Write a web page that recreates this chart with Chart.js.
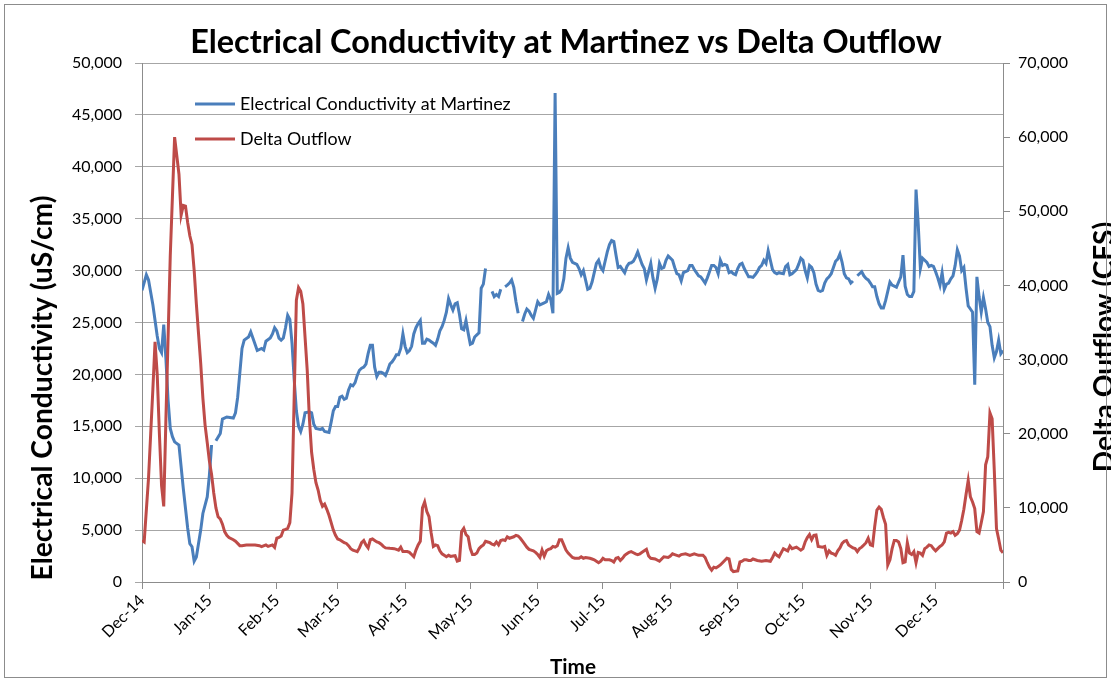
<!DOCTYPE html>
<html>
<head>
<meta charset="utf-8">
<script src="https://cdn.jsdelivr.net/npm/chart.js@4.4.1/dist/chart.umd.min.js"></script>
<style>
  html, body { margin: 0; padding: 0; background: #fff; }
  #wrap { width: 1111px; height: 682px; }
</style>
</head>
<body>
<div id="wrap"><canvas id="chart" width="1111" height="682"></canvas></div>
<script>
// day 0 = 1 Dec 2014
const monthDays = [0, 31, 62, 90, 121, 151, 182, 212, 243, 274, 304, 335, 365, 396];
const monthLabels = ['Dec-14', 'Jan-15', 'Feb-15', 'Mar-15', 'Apr-15', 'May-15', 'Jun-15',
  'Jul-15', 'Aug-15', 'Sep-15', 'Oct-15', 'Nov-15', 'Dec-15', ''];

// Electrical Conductivity at Martinez (uS/cm), null = missing data
const ecDay = [
  0, 2, 3, 5, 7, 8, 9, 10, 11, 12,
  13, 14, 15, 17, 19, 21, 22, 23, 24, 25,
  27, 28, 30, 31, 32, 33, 34, 36, 37, 39,
  42, 43, 44, 46, 47, 49, 50, 51, 53, 55,
  56, 57, 59, 60, 61, 62, 63, 64, 65, 66,
  67, 68, 69, 70, 71, 72, 73, 74, 75, 77,
  78, 79, 80, 82, 83, 84, 86, 87, 88, 89,
  90, 91, 92, 93, 94, 95, 96, 97, 98, 99,
  100, 101, 102, 103, 104, 105, 106, 107, 108, 109,
  110, 111, 112, 113, 114, 115, 116, 117, 118, 119,
  120, 121, 122, 123, 124, 125, 126, 127, 128, 129,
  130, 131, 132, 133, 134, 135, 136, 137, 138, 139,
  140, 141, 142, 143, 144, 145, 146, 147, 148, 149,
  150, 151, 152, 153, 154, 155, 156, 157, 158, 159,
  161, 162, 163, 164, 165, 166, 167, 168, 169,
  170, 171, 172, 173, 174, 175, 176, 177, 178, 179,
  180, 181, 182, 183, 184, 185, 186, 187, 188, 189,
  190, 191, 192, 193, 194, 195, 196, 197, 198, 199,
  200, 201, 202, 203, 204, 205, 206, 207, 208, 209,
  210, 211, 212, 213, 214, 215, 216, 217, 218, 219,
  220, 221, 222, 223, 224, 225, 226, 227, 228, 229,
  230, 231, 232, 233, 234, 235, 236, 237, 238, 239,
  240, 241, 242, 243, 244, 245, 246, 247, 248, 249,
  250, 251, 252, 253, 254, 255, 256, 257, 258, 259,
  260, 261, 262, 263, 264, 265, 266, 267, 268, 269,
  270, 271, 272, 273, 274, 275, 276, 277, 278, 279,
  280, 281, 282, 283, 284, 285, 286, 287, 288, 289,
  290, 291, 292, 293, 294, 295, 296, 297, 298, 299,
  300, 301, 302, 303, 304, 305, 306, 307, 308, 309,
  310, 311, 312, 313, 314, 315, 316, 317, 318, 319,
  320, 321, 322, 323, 324, 325, 326, 327, 328, 329,
  330, 331, 332, 333, 334, 335, 336, 337, 338, 339,
  340, 341, 342, 343, 344, 345, 346, 347, 348, 349,
  350, 351, 352, 353, 354, 355, 356, 357, 358, 359,
  360, 361, 362, 363, 364, 365, 366, 367, 368, 369,
  370, 371, 372, 373, 374, 375, 376, 377, 378, 379,
  380, 381, 382, 383, 384, 385, 386, 387, 388, 389,
  390, 391, 392, 393, 394, 395, 396
];
const ecVal = [
  28100, 29600, 29100, 26700, 23700, 22500, 22100, 24800, 21500, 17500,
  14800, 14000, 13500, 13200, 9000, 5200, 3700, 3400, 2000, 2400,
  5000, 6600, 8200, 10300, 13200, null, 13600, 14300, 15700, 15900,
  15800, 16300, 17800, 22500, 23300, 23600, 24100, 23500, 22300, 22500,
  22350, 23200, 23500, 23900, 24500, 24200, 23500, 23300, 23500, 24500,
  25700, 25300, 23000, 19500, 16500, 15000, 14500, 15200, 16300, 16400,
  16300, 15200, 14800, 14700, 14800, 14500, 14400, 15400, 16500, 16900,
  16900, 17800, 17900, 17600, 17700, 18500, 19000, 18900, 19200, 19900,
  20400, 20600, 20700, 21000, 22000, 22800, 22800, 20700, 19800, 20200,
  20200, 20100, 19900, 20400, 21000, 21200, 21500, 21900, 21900, 22500,
  23900, 22700, 22100, 22300, 22700, 23900, 24500, 24900, 25200, 23000,
  23000, 23400, 23300, 23150, 23000, 22800, 23400, 24200, 24600, 25200,
  26000, 27300, 26700, 26200, 26800, 26900, 25800, 24400, 24300, 25200,
  24000, 22900, 23000, 23600, 23800, 24000, 28300, 28700, 30200, null,
  28000, 27500, 27700, 27500, 28200, null, 28450, 28600, 28800,
  29100, 28400, 27000, 25900, null, 25100, 25800, 26300, 26100, 25700,
  25400, 26200, 27000, 26700, 26800, 26900, 27000, 27700, 27200, 25900,
  47100, 27800, 27900, 28200, 29200, 31200, 32200, 31200, 30800, 30700,
  30600, 30200, 29600, 30000, 29100, 28200, 28300, 28900, 29800, 30700,
  31000, 30300, 30000, 30900, 31800, 32500, 32900, 32800, 31500, 30300,
  30400, 30100, 29800, 30400, 30700, 30750, 30900, 31300, 31800, 31200,
  30600, 30200, 29100, 29900, 30700, 29300, 28300, 29200, 30700, 30200,
  30300, 31000, 31400, 31200, 31000, 30300, 29700, 29600, 29000, 29800,
  29900, 30000, 30500, 30500, 30100, 29800, 29500, 29400, 29100, 28800,
  29300, 29900, 30500, 30500, 30300, 29700, 31000, 30500, 30600, 30500,
  29800, 29900, 29700, 29600, 30200, 30600, 30700, 30200, 29800, 29400,
  29400, 29350, 29600, 29900, 30300, 30500, 31000, 30700, 31900, 31000,
  30100, 29800, 29700, 29800, 29750, 29700, 30400, 30600, 29600, 29700,
  29900, 30100, 30600, 31200, 31000, 30000, 29300, 30500, 30300, 29800,
  28700, 28100, 28000, 28100, 28800, 29200, 29400, 29700, 30300, 30900,
  31100, 31600, 30800, 29700, 29300, 29200, 28800, 29000, null, 29500,
  29700, 29900, 29500, 29250, 29100, 28800, 28450, 28450, 27500, 26800,
  26400, 26400, 27100, 28000, 28900, 28600, 28500, 28400, 28900, 29400,
  31500, 28500, 27700, 27500, 27500, 28000, 37800, 34500, 30200, 31200,
  31000, 30800, 30400, 30500, 30400, 29900, 29300, 28600, 29800, 28200,
  28700, 28800, 29200, 29500, 30500, 32000, 31400, 30000, 30300, 28300,
  26600, 26300, 26000, 19000, 29400, 27500, 26000, 27400, 26300, 25000,
  24600, 22800, 21600, 22200, 23300, 22000, 22300
];

// Delta Outflow (CFS)
const flowDay = [
  0, 1, 3, 4, 5, 6, 7, 8, 9, 10,
  11, 12, 13, 14, 15, 16, 17, 18, 19, 20,
  21, 22, 23, 24, 25, 26, 27, 28, 29, 30,
  31, 32, 33, 34, 35, 36, 37, 38, 39, 40,
  42, 43, 45, 46, 48, 52, 54, 55, 57, 58,
  60, 61, 62, 63, 64, 65, 66, 67, 68, 69,
  70, 71, 72, 73, 74, 75, 76, 77, 78, 79,
  80, 81, 82, 83, 84, 85, 86, 87, 88, 89,
  90, 91, 92, 93, 94, 95, 96, 97, 98, 99,
  100, 101, 102, 103, 104, 105, 106, 108, 109, 110,
  111, 112, 114, 116, 117, 118, 119, 120, 122, 123,
  124, 125, 126, 127, 128, 129, 130, 131, 132, 133,
  134, 135, 136, 137, 138, 139, 140, 141, 142, 143,
  144, 145, 146, 147, 148, 149, 150, 151, 152, 153,
  154, 155, 156, 157, 158, 159, 160, 161, 162, 163,
  164, 165, 166, 167, 168, 169, 170, 171, 172, 173,
  174, 175, 176, 177, 178, 179, 180, 181, 182, 183,
  184, 185, 186, 187, 188, 189, 190, 191, 192, 193,
  194, 195, 196, 197, 198, 199, 201, 202, 203, 204,
  206, 207, 208, 209, 210, 211, 212, 213, 215, 216,
  217, 218, 219, 220, 221, 222, 223, 224, 225, 226,
  227, 228, 229, 230, 231, 232, 233, 234, 236, 238,
  239, 240, 242, 243, 244, 245, 247, 248, 250, 252,
  254, 256, 258, 259, 260, 261, 262, 263, 264, 265,
  266, 267, 268, 269, 270, 271, 272, 273, 274, 275,
  276, 277, 278, 279, 280, 281, 283, 285, 287, 289,
  290, 291, 292, 293, 295, 297, 298, 299, 301, 302,
  303, 304, 305, 306, 307, 308, 309, 310, 311, 313,
  314, 315, 316, 317, 318, 319, 320, 321, 322, 323,
  324, 325, 326, 327, 328, 329, 330, 331, 332, 333,
  334, 335, 336, 337, 338, 339, 340, 341, 342, 343,
  344, 345, 346, 347, 348, 349, 350, 351, 352, 353,
  354, 355, 356, 357, 358, 359, 360, 361, 362, 363,
  364, 365, 366, 367, 368, 369, 370, 371, 372, 373,
  374, 375, 376, 377, 378, 379, 380, 381, 382, 383,
  384, 385, 386, 387, 388, 389, 390, 391, 392, 393,
  394, 395, 396
];
const flowVal = [
  5600, 5400, 14000, 20000, 26000, 32400, 28000, 20000, 13000, 10200,
  22000, 33000, 44000, 52000, 60000, 57500, 55000, 49500, 50800, 50700,
  48500, 46700, 45500, 42000, 37500, 33500, 29500, 24800, 21200, 18800,
  16300, 14500, 12000, 10000, 8800, 8500, 7800, 6800, 6300, 6000,
  5700, 5500, 4900, 4900, 5000, 5000, 4900, 4760, 5000, 4800,
  5000, 4670, 5900, 6000, 6200, 7000, 7100, 7240, 8000, 12000,
  25000, 38000, 39700, 39200, 37500, 33000, 28500, 22000, 17500, 15200,
  13400, 12400, 11000, 10200, 10500, 9800, 9000, 8000, 7000, 6300,
  5800, 5700, 5500, 5300, 5200, 4900, 4500, 4300, 4200, 4100,
  4600, 5300, 5600, 5000, 4600, 5700, 5800, 5400, 5300, 5100,
  4800, 4600, 4540, 4500, 4400, 4300, 4700, 4100, 4100, 4000,
  3700, 3400, 4300, 5000, 5500, 10000, 10800, 9500, 8800, 6600,
  4800, 5000, 4900, 4200, 3800, 3600, 3400, 3600, 3450, 3500,
  3550, 2800, 2900, 6800, 7240, 6400, 6100, 4500, 3700, 3700,
  3900, 4500, 4800, 5000, 5500, 5400, 5300, 5100, 5000, 5400,
  5000, 5600, 5700, 5600, 6100, 5900, 6000, 6100, 6300, 6200,
  5900, 5500, 5100, 4700, 4400, 4300, 4200, 4000, 3700, 3300,
  4300, 3500, 4200, 4400, 4500, 4800, 4700, 4900, 5700, 5700,
  5000, 4300, 3900, 3600, 3300, 3200, 3200, 3400, 3200, 3300,
  3200, 3100, 3000, 2800, 2600, 2800, 3200, 3000, 3000, 2900,
  2700, 3200, 3300, 2900, 3200, 3600, 3800, 4000, 4100, 3950,
  3800, 3700, 3800, 4000, 4200, 4400, 3500, 3200, 3100, 2800,
  3100, 3400, 3300, 3500, 3800, 3700, 3500, 3700, 3800, 3600,
  3800, 3600, 3600, 3300, 2600, 2000, 1600, 2000, 1900, 2100,
  2300, 2600, 2900, 3200, 3100, 1700, 1400, 1450, 1500, 2700,
  2800, 3000, 3000, 2900, 2900, 3100, 2900, 2800, 2900, 2800,
  3300, 3900, 3600, 3400, 4500, 4200, 4860, 4500, 4700, 4500,
  4300, 4500, 5400, 6000, 6400, 5700, 6300, 6340, 4800, 4700,
  4800, 3600, 4200, 3900, 3800, 3600, 4200, 4600, 5200, 5500,
  5600, 5000, 4800, 4600, 4500, 4100, 4500, 4700, 5000, 5300,
  5900, 5000, 4900, 7500, 9700, 10100, 9800, 8700, 7800, 2300,
  3000, 4500, 5600, 5600, 5400, 4500, 2600, 2700, 5300, 3900,
  3700, 4100, 2600, 4000, 3900, 3600, 4500, 4700, 5000, 4900,
  4500, 4200, 4500, 4800, 5000, 5400, 6600, 6700, 6600, 6800,
  6300, 6500, 7000, 8300, 9800, 11800, 13700, 11500, 10800, 9900,
  6800, 6600, 8000, 9500, 15800, 16900, 22800, 22000, 15000, 7200,
  5800, 4300, 3950
];

const FONT = 'Lato, "Open Sans", "DejaVu Sans", sans-serif';
const AXIS = '#8c8c8c';
const BLUE = '#4a7ebb';
const RED = '#be4b48';

// font size that makes text span the given width
function fitSize(ctx, text, weight, width) {
  ctx.font = weight + ' 100px ' + FONT;
  return 100 * width / ctx.measureText(text).width;
}

const decor = {
  id: 'decor',
  afterDraw(chart) {
    const ctx = chart.ctx;
    ctx.save();
    ctx.fillStyle = '#000';

    // chart title
    let t = 'Electrical Conductivity at Martinez vs Delta Outflow';
    let s = fitSize(ctx, t, 'bold', 752);
    ctx.font = 'bold ' + s + 'px ' + FONT;
    ctx.textAlign = 'center';
    ctx.textBaseline = 'middle';
    ctx.fillText(t, 566, 43);

    // x axis title
    s = fitSize(ctx, 'Time', 'bold', 46);
    ctx.font = 'bold ' + s + 'px ' + FONT;
    ctx.fillText('Time', 573, 667);

    // y axis titles (both read bottom to top)
    t = 'Electrical Conductivity (uS/cm)';
    s = fitSize(ctx, t, 'bold', 385);
    ctx.font = 'bold ' + s + 'px ' + FONT;
    ctx.save();
    ctx.translate(43, 388);
    ctx.rotate(-Math.PI / 2);
    ctx.fillText(t, 0, 0);
    ctx.restore();

    ctx.save();
    ctx.translate(1105, 347);
    ctx.rotate(-Math.PI / 2);
    ctx.fillText('Delta Outflow (CFS)', 0, 0);
    ctx.restore();

    // legend inside the plot
    const items = [['Electrical Conductivity at Martinez', BLUE, 104], ['Delta Outflow', RED, 139]];
    s = fitSize(ctx, items[0][0], 'normal', 271);
    ctx.font = s + 'px ' + FONT;
    ctx.textAlign = 'left';
    ctx.lineWidth = 3;
    items.forEach(([label, color, y]) => {
      ctx.strokeStyle = color;
      ctx.beginPath();
      ctx.moveTo(195, y);
      ctx.lineTo(235, y);
      ctx.stroke();
      ctx.fillStyle = '#000';
      ctx.fillText(label, 240, y);
    });

    // outer frame
    ctx.strokeStyle = AXIS;
    ctx.lineWidth = 1;
    ctx.strokeRect(4.5, 4.5, 1102, 673);
    ctx.restore();
  }
};

const ctx = document.getElementById('chart').getContext('2d');
new Chart(ctx, {
  type: 'line',
  data: {
    datasets: [{
      label: 'Electrical Conductivity at Martinez',
      data: ecDay.map((d, i) => ({ x: d, y: ecVal[i] })),
      borderColor: BLUE,
      borderWidth: 3,
      pointRadius: 0,
      spanGaps: false,
      yAxisID: 'y',
      order: 2
    }, {
      label: 'Delta Outflow',
      data: flowDay.map((d, i) => ({ x: d, y: flowVal[i] })),
      borderColor: RED,
      borderWidth: 3,
      pointRadius: 0,
      yAxisID: 'y1',
      order: 1
    }]
  },
  options: {
    responsive: false,
    animation: false,
    layout: { padding: { top: 63, left: 0, right: 0, bottom: 0 } },
    plugins: {
      legend: { display: false },
      tooltip: { enabled: false }
    },
    scales: {
      x: {
        type: 'linear',
        min: 0,
        max: 396,
        afterBuildTicks: s => { s.ticks = monthDays.map(v => ({ value: v })); },
        afterFit: s => { s.height = 100; },
        ticks: {
          autoSkip: false,
          minRotation: 45,
          maxRotation: 45,
          padding: 2,
          color: '#000',
          font: { family: FONT, size: 16 },
          callback: (v, i) => monthLabels[i]
        },
        grid: { drawOnChartArea: false, tickLength: 7, color: AXIS },
        border: { color: AXIS }
      },
      y: {
        position: 'left',
        min: 0,
        max: 50000,
        afterFit: s => { s.width = 142; },
        ticks: {
          stepSize: 5000,
          padding: 13,
          color: '#000',
          font: { family: FONT, size: 16 },
          callback: v => v.toLocaleString('en-US')
        },
        grid: { color: '#a6a6a6', tickLength: 7 },
        border: { color: AXIS }
      },
      y1: {
        position: 'right',
        min: 0,
        max: 70000,
        afterFit: s => { s.width = 108; },
        ticks: {
          stepSize: 10000,
          padding: 8,
          color: '#000',
          font: { family: FONT, size: 16 },
          callback: v => v.toLocaleString('en-US')
        },
        grid: { drawOnChartArea: false, tickLength: 7, color: AXIS },
        border: { color: AXIS }
      }
    }
  },
  plugins: [decor]
});
</script>
</body>
</html>
